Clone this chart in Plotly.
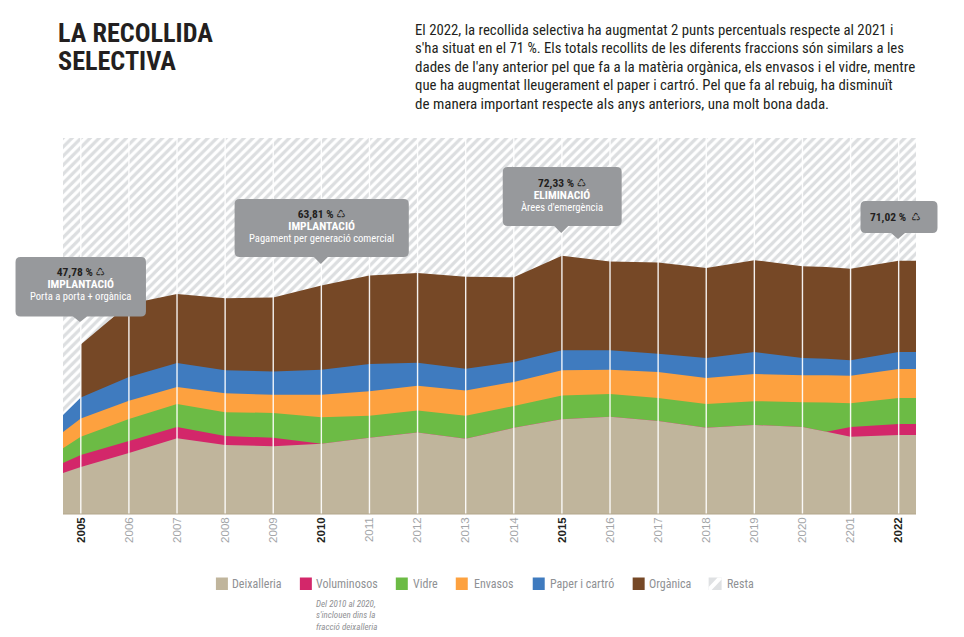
import plotly.graph_objects as go

# ---------- data (percent of total waste, stacked) ----------
# sampling positions: left edge of panel, each year, the point where "Voluminosos" re-emerges, right edge
xs = [2004.63, 2005, 2006, 2007, 2008, 2009, 2010, 2011, 2012, 2013, 2014, 2015, 2016, 2017,
      2018, 2019, 2020, 2020.5, 2021, 2022, 2022.36]
deixalleria = [11.5, 13.2, 17.1, 21.3, 19.4, 19.0, 19.7, 21.4, 22.9, 21.1, 24.2, 26.6, 27.3, 26.1,
               24.2, 25.0, 24.4, 23.1, 21.7, 22.2, 22.2]
voluminosos = [2.8, 3.4, 3.4, 3.1, 2.5, 2.4, 0, 0, 0, 0, 0, 0, 0, 0,
               0, 0, 0, 0, 2.7, 3.1, 3.1]
vidre = [4.2, 5.1, 6.2, 6.5, 6.7, 7.0, 7.5, 6.2, 6.2, 6.5, 6.1, 6.7, 6.4, 6.5,
         6.7, 6.7, 7.0, 8.2, 6.7, 7.3, 7.3]
envasos = [4.5, 5.1, 5.1, 4.8, 5.3, 5.1, 6.3, 6.9, 6.9, 7.1, 6.8, 7.1, 6.8, 7.3,
           7.3, 7.6, 7.6, 7.7, 7.7, 8.1, 8.1]
paper = [4.8, 5.9, 6.7, 6.7, 6.5, 6.5, 7.0, 7.6, 6.5, 6.1, 5.6, 5.6, 5.5, 5.1,
         5.6, 6.2, 4.8, 4.6, 4.4, 4.8, 4.8]
organica = [0, 14.9, 20.5, 19.4, 20.2, 20.8, 23.7, 24.9, 25.2, 25.8, 23.8, 26.5, 24.9, 25.6,
            25.3, 25.8, 25.8, 25.8, 25.7, 25.6, 25.6]

years = list(range(2005, 2023))
tick_labels = ["2005", "2006", "2007", "2008", "2009", "2010", "2011", "2012", "2013", "2014",
               "2015", "2016", "2017", "2018", "2019", "2020", "2201", "2022"]
highlight_years = ["2005", "2010", "2015", "2022"]

series_names = ["Deixalleria", "Voluminosos", "Vidre", "Envasos", "Paper i cartró", "Orgànica"]
series_values = [deixalleria, voluminosos, vidre, envasos, paper, organica]
series_colors = ["#c0b59c", "#d3276a", "#6cbb45", "#fda13f", "#3f7bbf", "#764826"]
Y_TOP = 105.6

# ---------- layout helpers (page pixels to paper fractions) ----------
W, H = 964, 637
L, R, T, B = 63, 916.5, 138, 514
FONT = "'Roboto Condensed', 'Noto Sans Condensed', 'DejaVu Sans Condensed', sans-serif"


def px(x):
    return (x - L) / (R - L)


def py(y):
    return (B - y) / (B - T)


def text(x, y, s, size, color="#231f20", anchor="left", font=FONT):
    return dict(xref="paper", yref="paper", x=px(x), y=py(y), text=s, showarrow=False,
                xanchor=anchor, yanchor="middle", align=anchor,
                font=dict(family=font, size=size, color=color), borderpad=0, borderwidth=0)


def callout(x0, y0, x1, y1, tip_x, tip_y, color="#97999c"):
    r, hw = 5, 7
    pts = [("M", x0 + r, y0), ("L", x1 - r, y0), ("Q", x1, y0, x1, y0 + r), ("L", x1, y1 - r),
           ("Q", x1, y1, x1 - r, y1), ("L", tip_x + hw, y1), ("L", tip_x, tip_y), ("L", tip_x - hw, y1),
           ("L", x0 + r, y1), ("Q", x0, y1, x0, y1 - r), ("L", x0, y0 + r), ("Q", x0, y0, x0 + r, y0)]
    path = ""
    for p in pts:
        c = p[0]
        nums = p[1:]
        coords = []
        for i in range(0, len(nums), 2):
            coords.append(f"{px(nums[i]):.5f},{py(nums[i + 1]):.5f}")
        path += c + " ".join(coords) + " "
    return dict(type="path", xref="paper", yref="paper", path=path + "Z", fillcolor=color,
                line=dict(width=0), layer="above")


# ---------- traces ----------
fig = go.Figure()
fig.add_trace(go.Scatter(x=[xs[0], xs[-1]], y=[Y_TOP, Y_TOP], mode="none", fill="tozeroy", name="Resta",
                         fillcolor="#ffffff", hoverinfo="skip",
                         fillpattern=dict(shape="/", size=6.4, solidity=0.5, fgcolor="#dcdee0",
                                          bgcolor="#ffffff", fillmode="replace")))
tops = []
running = [0.0] * len(xs)
for vals in series_values:
    running = [a + b for a, b in zip(running, vals)]
    tops.append(running)
for i in reversed(range(len(series_names))):
    first = 1 if series_names[i] == "Orgànica" else 0
    fig.add_trace(go.Scatter(x=xs[first:], y=tops[i][first:], mode="none", fill="tozeroy",
                             fillcolor=series_colors[i], name=series_names[i]))

# ---------- shapes ----------
shapes = [dict(type="line", xref="x", yref="paper", x0=yr, x1=yr, y0=0, y1=1,
               line=dict(color="rgba(255,255,255,0.92)", width=1.4), layer="above") for yr in years]
shapes.append(dict(type="line", xref="paper", yref="paper", x0=0, x1=1, y0=0, y1=0,
                   line=dict(color="#b3a68c", width=1), layer="above"))
shapes += [
    callout(15.5, 257, 146, 316.5, 80, 322),
    callout(234.7, 199, 409, 257, 321, 264),
    callout(503, 167, 622, 226, 561.5, 233),
    callout(861, 201, 938, 233, 898.5, 239),
]

annotations = [
    text(58, 33.5, "<b>LA RECOLLIDA</b>", 26.2),
    text(58, 60.5, "<b>SELECTIVA</b>", 26.2),
]
body = [
    "El 2022, la recollida selectiva ha augmentat 2 punts percentuals respecte al 2021 i",
    "s'ha situat en el 71 %. Els totals recollits de les diferents fraccions són similars a les",
    "dades de l'any anterior pel que fa a la matèria orgànica, els envasos i el vidre, mentre",
    "que ha augmentat lleugerament el paper i cartró. Pel que fa al rebuig, ha disminuït",
    "de manera important respecte als anys anteriors, una molt bona dada.",
]
body_sizes = [14.8, 14.75, 15.0, 14.8, 15.0]
for i, (line, size) in enumerate(zip(body, body_sizes)):
    annotations.append(text(415, 30 + i * 18.4, line, size))

DARK = "#231f20"
for cx, cy, pct, head, sub in [
    (80.5, 284, "47,78 %", "IMPLANTACIÓ", "Porta a porta + orgànica"),
    (322, 226, "63,81 %", "IMPLANTACIÓ", "Pagament per generació comercial"),
    (562, 195, "72,33 %", "ELIMINACIÓ", "Àrees d'emergència"),
]:
    annotations.append(text(
        cx, cy,
        f'<span style="font-size:11.5px;color:{DARK}"><b>{pct}</b> ♺</span><br>'
        f'<span style="font-size:11.5px"><b>{head}</b></span><br>'
        f'<span style="font-size:10.6px">{sub}</span>',
        9.2, "#ffffff", "center"))
annotations.append(text(896, 216.5, "<b>71,02 %</b>  ♺", 11.5, DARK, "center"))

# ---------- hand-placed legend ----------
LEG_TOP, LEG_BOT = 577.5, 590
legend_pos = [(216, 232), (300, 316), (396, 413), (456, 474), (533, 550), (633, 649)]
for (sx, tx), name, col in zip(legend_pos, series_names, series_colors):
    shapes.append(dict(type="rect", xref="paper", yref="paper", x0=px(sx), x1=px(sx + 12),
                       y0=py(LEG_BOT), y1=py(LEG_TOP), fillcolor=col, line=dict(width=0)))
    annotations.append(text(tx, 584, name, 12, "#8f9194"))
# Resta swatch: hatched square
shapes.append(dict(type="rect", xref="paper", yref="paper", x0=px(709), x1=px(722),
                   y0=py(LEG_BOT), y1=py(LEG_TOP), fillcolor="#dfe1e3", line=dict(width=0)))
shapes.append(dict(type="path", xref="paper", yref="paper", fillcolor="#ffffff", line=dict(width=0),
                   path=f"M{px(709):.5f},{py(LEG_BOT - 3):.5f} L{px(718):.5f},{py(LEG_TOP):.5f} "
                        f"L{px(722):.5f},{py(LEG_TOP):.5f} L{px(722):.5f},{py(LEG_TOP + 2):.5f} "
                        f"L{px(712):.5f},{py(LEG_BOT):.5f} L{px(709):.5f},{py(LEG_BOT):.5f} Z"))
annotations.append(text(727, 584, "Resta", 12, "#8f9194"))
note_lines = ["Del 2010 al 2020,", "s'inclouen dins la", "fracció deixalleria"]
annotations.append(text(316, 615.5,
                        "<br>".join(f'<span style="font-size:9px"><i>{n}</i></span>' for n in note_lines),
                        8.7, "#8f9194"))

ticktext = [
    f'<b><span style="color:#231f20">{t}</span></b>' if t in highlight_years else t
    for t in tick_labels
]

fig.update_layout(
    width=W, height=H, margin=dict(l=L, r=W - R, t=T, b=H - B, pad=0, autoexpand=False),
    paper_bgcolor="#ffffff", plot_bgcolor="#ffffff", showlegend=False,
    shapes=shapes, annotations=annotations,
    xaxis=dict(range=[xs[0], xs[-1]], tickmode="array", tickvals=years, ticktext=ticktext, tickangle=-90,
               showgrid=False, zeroline=False, showline=False, ticks="", ticklen=0,
               tickfont=dict(family="Liberation Sans", size=11.5, color="#a3a5a8")),
    yaxis=dict(range=[0, Y_TOP], showgrid=False, zeroline=False, showticklabels=False, ticks="", showline=False),
)
fig.write_html("out.html", post_script="document.body.style.margin='0';",
               config=dict(displayModeBar=False))
